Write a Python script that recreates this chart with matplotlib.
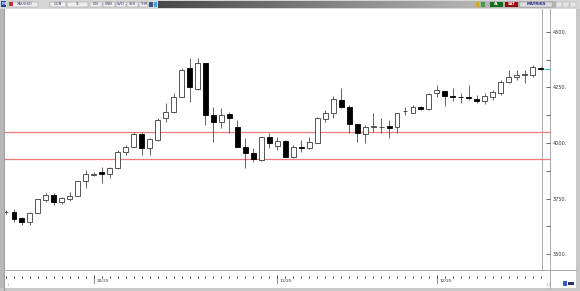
import matplotlib
matplotlib.use('Agg')
import matplotlib.pyplot as plt
from matplotlib.patches import Rectangle
import numpy as np

# daily XAUUSD candles, 16 Sep .. 17 Dec
opens = [3688, 3690, 3662, 3645, 3685, 3744, 3766, 3735, 3748, 3762,
         3829, 3858, 3869, 3860, 3888, 3960, 3982, 4040, 3978, 4013,
         4112, 4140, 4207, 4338, 4243, 4360, 4126, 4094, 4130, 4072,
         3982, 3955, 3923, 4027, 3987, 4009, 3937, 3980, 3978, 4000,
         4108, 4135, 4193, 4162, 4085, 4040, 4070, 4072, 4076, 4072,
         4142, 4135, 4162, 4153, 4225, 4234, 4211, 4209, 4207, 4198,
         4189, 4207, 4225, 4274, 4297, 4306, 4306, 4338]
highs = [3697, 3703, 3667, 3690, 3750, 3775, 3775, 3757, 3780, 3830,
         3878, 3870, 3892, 3892, 3968, 3991, 4050, 4050, 4022, 4112,
         4180, 4225, 4338, 4382, 4382, 4362, 4162, 4157, 4140, 4103,
         4022, 3978, 4029, 4045, 4027, 4012, 3991, 4013, 4027, 4117,
         4148, 4211, 4247, 4171, 4087, 4081, 4135, 4112, 4103, 4137,
         4162, 4171, 4165, 4225, 4261, 4236, 4247, 4225, 4261, 4216,
         4225, 4238, 4283, 4328, 4328, 4328, 4351, 4342]
lows = [3680, 3645, 3631, 3631, 3683, 3735, 3721, 3726, 3739, 3760,
        3798, 3852, 3820, 3842, 3885, 3946, 3980, 3946, 3946, 4010,
        4095, 4135, 4205, 4184, 4240, 4081, 4004, 4067, 4045, 3980,
        3887, 3914, 3920, 3977, 3968, 3935, 3932, 3960, 3973, 3998,
        4094, 4112, 4157, 4045, 4004, 4000, 4050, 4045, 4022, 4045,
        4126, 4133, 4150, 4148, 4207, 4166, 4189, 4180, 4193, 4180,
        4175, 4193, 4216, 4270, 4283, 4270, 4297, 4330]
closes = [3690, 3658, 3645, 3685, 3748, 3766, 3735, 3752, 3762, 3829,
          3860, 3862, 3860, 3888, 3960, 3982, 4040, 3978, 4018, 4104,
          4140, 4207, 4328, 4252, 4360, 4126, 4094, 4126, 4112, 3982,
          3955, 3928, 4027, 4000, 4009, 3937, 3982, 3978, 4004, 4112,
          4135, 4198, 4162, 4085, 4045, 4072, 4076, 4072, 4068, 4135,
          4146, 4162, 4153, 4220, 4238, 4211, 4209, 4207, 4202, 4189,
          4211, 4229, 4274, 4297, 4306, 4310, 4342, 4333]

month_labels = ['10/25', '11/25', '12/25']
month_starts = [11, 34, 54]
price_ticks = [3500, 3750, 4000, 4250, 4500]
price_minor = [3625, 3875, 4125, 4375]
levels = [4050, 3928]

W, H = 580, 291


def px_box(x0, y0, x1, y1):
    return [x0 / W, 1 - y1 / H, (x1 - x0) / W, (y1 - y0) / H]


fig = plt.figure(figsize=(W / 100, H / 100), dpi=100)
fig.patch.set_facecolor('white')

# window frame drawn in pixel coordinates
bg = fig.add_axes([0, 0, 1, 1], zorder=0)
bg.axis('off')

bg.add_patch(Rectangle((0, 0), W, 9, color='#d6d6d6', lw=0))
t = np.linspace(0, 1, 256)
left_c = np.array([0x48, 0x48, 0x48]) / 255
right_c = np.array([0xb4, 0xb4, 0xb4]) / 255
grad = (left_c[None, :] * (1 - t[:, None]) + right_c[None, :] * t[:, None])[None, :, :]
bg.imshow(grad, extent=(158, 472, 8, 1), aspect='auto', zorder=1)
bg.add_patch(Rectangle((472, 1), 84, 7, color='#b4b4b4', lw=0))
bg.add_patch(Rectangle((1, 1), 5, 6, color='#2040a0', lw=0, zorder=2))
bg.text(3.5, 4.3, 'M', color='white', fontsize=3, ha='center', va='center', weight='bold', zorder=3)
boxes = [(8, 38, 'XAUUSD'), (50, 66, 'GUN'), (67, 88, 'TL'), (90, 102, 'LIN'),
         (103, 115, 'KNN'), (116, 126, 'SVD'), (127, 138, 'SYH'), (139, 148, 'THR')]
for x0, x1, s in boxes:
    bg.add_patch(Rectangle((x0, 1.5), x1 - x0, 5.5, facecolor='#eeeeee', edgecolor='#888888', lw=0.3))
    bg.text((x0 + x1) / 2 + (2 if s == 'XAUUSD' else 0), 4.4, s, fontsize=2.6,
            ha='center', va='center', color='#333366')
bg.add_patch(Rectangle((9, 2), 4, 4, color='#c03030', lw=0, zorder=2))
bg.add_patch(Rectangle((149, 2), 4, 4.5, color='#405080', lw=0, zorder=2))
bg.add_patch(Rectangle((154, 2), 3, 4.5, color='#40a0e0', lw=0, zorder=2))
bg.add_patch(Rectangle((476, 2), 3, 4.5, color='#e0a020', lw=0, zorder=2))
bg.add_patch(Rectangle((481, 2), 4, 4.5, color='#40a040', lw=0, zorder=2))
bg.add_patch(Rectangle((490, 1.5), 13, 5.5, color='#107020', lw=0, zorder=2))
bg.text(496.5, 4.4, 'AL', fontsize=2.6, ha='center', va='center', color='white', weight='bold', zorder=3)
bg.add_patch(Rectangle((505, 1.5), 13, 5.5, color='#901010', lw=0, zorder=2))
bg.text(511.5, 4.4, 'SAT', fontsize=2.6, ha='center', va='center', color='white', weight='bold', zorder=3)
bg.add_patch(Rectangle((520, 1.5), 32, 5.5, facecolor='#dcdcdc', edgecolor='#999999', lw=0.3, zorder=2))
bg.text(536, 4.4, 'MATRIKS', fontsize=2.8, ha='center', va='center', color='#202080', weight='bold', zorder=3)
for x0 in (556, 563, 570):
    bg.add_patch(Rectangle((x0, 2), 5.5, 5, facecolor='#e6e6e6', edgecolor='#aaaaaa', lw=0.3, zorder=2))

bg.add_patch(Rectangle((0, 9), 4, H - 9, color='#b8b8b8', lw=0))
bg.plot([4, 4], [9, H], color='#8a8a8a', lw=0.6)
bg.add_patch(Rectangle((576, 9), 4, H - 9, color='#c8c8c8', lw=0))
bg.add_patch(Rectangle((0, 288), W, 3, color='#c8c8c8', lw=0))
bg.plot([5, 576], [270, 270], color='#9a9a9a', lw=0.6)
bg.plot([542, 542], [9, 270], color='#9a9a9a', lw=0.6)
bg.plot([550, 550], [9, 288], color='#9a9a9a', lw=0.6)
bg.text(8, 285, '..l', fontsize=2.5, ha='center', va='center', color='#777777')
bg.text(548, 285, '..l.l', fontsize=2.5, ha='center', va='center', color='#777777')
bg.add_patch(Rectangle((563, 281), 4, 5, color='#3060c0', lw=0))
bg.add_patch(Rectangle((568, 282), 6, 3, color='#303060', lw=0))
bg.set_xlim(0, W)
bg.set_ylim(H, 0)

# price chart
ax = fig.add_axes(px_box(5, 9, 550, 270), zorder=2)
ax.patch.set_alpha(0)
o = np.array(opens, dtype=float)
h = np.array(highs, dtype=float)
l = np.array(lows, dtype=float)
c = np.array(closes, dtype=float)
idx = np.arange(len(o))
up = c >= o

ax.vlines(idx, l, h, color='#4a4a4a', lw=0.6, zorder=2)
ax.bar(idx[up], c[up] - o[up], bottom=o[up], width=0.62, color='white',
       edgecolor='#3a3a3a', lw=0.6, zorder=3)
ax.bar(idx[~up], o[~up] - c[~up], bottom=c[~up], width=0.62, color='black',
       edgecolor='black', lw=0.6, zorder=3)

for lv in levels:
    ax.axhline(lv, color='#ee7c7c', lw=0.9, zorder=1)
ax.hlines(c[-1], len(c) - 0.6, len(c) + 0.2, color='#40c0c8', lw=0.8, zorder=4)

ax.set_xlim(-0.125, 68.17)
ax.set_ylim(3428.5, 4603)
for s in ax.spines.values():
    s.set_visible(False)

ax.yaxis.tick_right()
ax.set_yticks(price_ticks)
ax.set_yticklabels([f'{v}.' for v in price_ticks])
ax.set_yticks(price_minor, minor=True)
ax.tick_params(axis='y', which='both', direction='in', length=3, width=0.6,
               colors='#555555', labelsize=3.6, pad=2)
ax.tick_params(axis='y', which='both', labelcolor='#333333')
ax.set_xticks([])

xt = ax.get_xaxis_transform()
ax.plot(idx, np.full(len(idx), -0.027), transform=xt, ls='none', marker='|',
        ms=1.6, mew=0.7, color='#333333', clip_on=False)
for m, lab in zip(month_starts, month_labels):
    ax.plot([m, m], [-0.02, -0.05], transform=xt, color='#555555', lw=0.5, clip_on=False)
    ax.text(m + 0.3, -0.043, lab, transform=xt, fontsize=3.2, ha='left', va='center',
            color='#333333', clip_on=False)

fig.savefig('out.png', dpi=100)
